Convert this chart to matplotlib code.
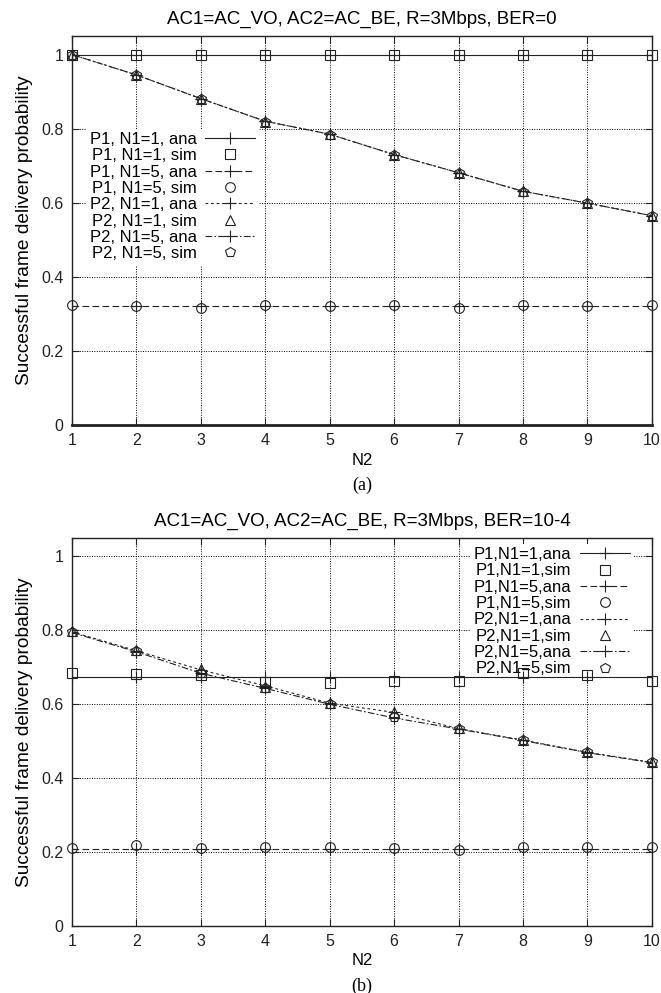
import matplotlib
matplotlib.use("Agg")
import matplotlib.pyplot as plt

plt.rcParams['font.family'] = ['Liberation Sans', 'DejaVu Sans']

# data
n2 = [1, 2, 3, 4, 5, 6, 7, 8, 9, 10]
labels_a = ["P1, N1=1, ana", "P1, N1=1, sim", "P1, N1=5, ana", "P1, N1=5, sim",
            "P2, N1=1, ana", "P2, N1=1, sim", "P2, N1=5, ana", "P2, N1=5, sim"]
labels_b = ["P1,N1=1,ana", "P1,N1=1,sim", "P1,N1=5,ana", "P1,N1=5,sim",
            "P2,N1=1,ana", "P2,N1=1,sim", "P2,N1=5,ana", "P2,N1=5,sim"]

# (a) BER=0
a_p1_n1_1_ana = [1.0, 1.0, 1.0, 1.0, 1.0, 1.0, 1.0, 1.0, 1.0, 1.0]
a_p1_n1_1_sim = [1.0, 1.0, 1.0, 1.0, 1.0, 1.0, 1.0, 1.0, 1.0, 1.0]
a_p1_n1_5_ana = [0.322, 0.322, 0.322, 0.322, 0.322, 0.322, 0.322, 0.322, 0.322, 0.322]
a_p1_n1_5_sim = [0.323, 0.320, 0.316, 0.325, 0.322, 0.325, 0.316, 0.325, 0.320, 0.325]
a_p2_n1_1_ana = [1.0, 0.945, 0.881, 0.820, 0.785, 0.730, 0.681, 0.631, 0.599, 0.565]
a_p2_n1_1_sim = [1.0, 0.946, 0.880, 0.818, 0.786, 0.729, 0.681, 0.631, 0.598, 0.565]
a_p2_n1_5_ana = [1.0, 0.945, 0.881, 0.820, 0.785, 0.730, 0.681, 0.631, 0.599, 0.565]
a_p2_n1_5_sim = [1.0, 0.944, 0.879, 0.819, 0.784, 0.728, 0.680, 0.630, 0.598, 0.564]

# (b) BER=10-4
b_p1_n1_1_ana = [0.673, 0.673, 0.673, 0.673, 0.673, 0.673, 0.673, 0.673, 0.673, 0.673]
b_p1_n1_1_sim = [0.686, 0.682, 0.680, 0.661, 0.657, 0.664, 0.664, 0.684, 0.680, 0.664]
b_p1_n1_5_ana = [0.209, 0.209, 0.209, 0.209, 0.209, 0.209, 0.209, 0.209, 0.209, 0.209]
b_p1_n1_5_sim = [0.210, 0.218, 0.210, 0.215, 0.215, 0.210, 0.206, 0.215, 0.213, 0.213]
b_p2_n1_1_ana = [0.796, 0.745, 0.693, 0.650, 0.603, 0.578, 0.534, 0.503, 0.470, 0.443]
b_p2_n1_1_sim = [0.797, 0.746, 0.695, 0.648, 0.603, 0.578, 0.535, 0.504, 0.471, 0.444]
b_p2_n1_5_ana = [0.794, 0.742, 0.684, 0.643, 0.600, 0.563, 0.533, 0.502, 0.469, 0.442]
b_p2_n1_5_sim = [0.795, 0.744, 0.686, 0.645, 0.601, 0.566, 0.534, 0.503, 0.470, 0.443]

ink = '#222222'
ana_styles = ['-', (0, (6, 3)), (0, (2.5, 2.5)), (0, (6, 2, 1.5, 2))]
sim_markers = ['s', 'o', '^', 'p']


def draw_panel(ax, series, labels, title, caption, leg_anchor, leg_loc):
    for i in range(4):
        ana, sim = series[i]
        ax.plot(n2, ana, color=ink, linestyle=ana_styles[i], linewidth=0.8,
                marker='+', markersize=9, markeredgewidth=0.8, label=labels[2 * i], zorder=3)
        ax.plot(n2, sim, color=ink, linestyle='none', marker=sim_markers[i],
                markersize=7, markerfacecolor='none', markeredgewidth=0.8,
                label=labels[2 * i + 1], zorder=3, clip_on=False)
    ax.set_xlim(1, 10)
    ax.set_ylim(0, 1.05)
    ax.set_xticks(n2)
    ax.set_yticks([0, 0.2, 0.4, 0.6, 0.8, 1.0])
    ax.set_yticklabels(['0', '0.2', '0.4', '0.6', '0.8', '1'])
    ax.tick_params(direction='in', length=5, width=0.8, top=True, right=True,
                   labelsize=11.5, pad=6, colors=ink)
    ax.set_axisbelow(True)
    ax.grid(True, color='black', linestyle=(0, (1, 1.5)), linewidth=0.7)
    for s in ax.spines.values():
        s.set_linewidth(1.0)
        s.set_color(ink)
    ax.set_xlabel('N2', fontsize=12, labelpad=3)
    ax.set_ylabel('Successful frame delivery probability', fontsize=13.8, labelpad=6)
    ax.set_title(title, fontsize=13.5, pad=9)
    leg = ax.legend(loc=leg_loc, bbox_to_anchor=leg_anchor, markerfirst=False,
                    frameon=True, framealpha=1, edgecolor='none', facecolor='white',
                    fontsize=12, labelspacing=0.08, handlelength=3.0, handletextpad=0.5,
                    borderpad=0.2, borderaxespad=0, numpoints=1, fancybox=False)
    leg.set_zorder(2)
    ax.text(0.5, -0.155, caption, transform=ax.transAxes, ha='center', va='center',
            fontsize=13, family=['Liberation Serif', 'DejaVu Serif'])


fig = plt.figure(figsize=(6.61, 9.93), dpi=100)
ax_a = fig.add_axes([0.109, 0.572, 0.877, 0.3917])
ax_b = fig.add_axes([0.109, 0.0675, 0.877, 0.3907])

series_a = [(a_p1_n1_1_ana, a_p1_n1_1_sim), (a_p1_n1_5_ana, a_p1_n1_5_sim),
            (a_p2_n1_1_ana, a_p2_n1_1_sim), (a_p2_n1_5_ana, a_p2_n1_5_sim)]
series_b = [(b_p1_n1_1_ana, b_p1_n1_1_sim), (b_p1_n1_5_ana, b_p1_n1_5_sim),
            (b_p2_n1_1_ana, b_p2_n1_1_sim), (b_p2_n1_5_ana, b_p2_n1_5_sim)]

draw_panel(ax_a, series_a, labels_a, 'AC1=AC_VO, AC2=AC_BE, R=3Mbps, BER=0', '(a)',
           (0.322, 0.762), 'upper right')
draw_panel(ax_b, series_b, labels_b, 'AC1=AC_VO, AC2=AC_BE, R=3Mbps, BER=10-4', '(b)',
           (0.968, 0.985), 'upper right')
ax_a.spines['bottom'].set_linewidth(2.0)

fig.savefig('out.png', dpi=100)
